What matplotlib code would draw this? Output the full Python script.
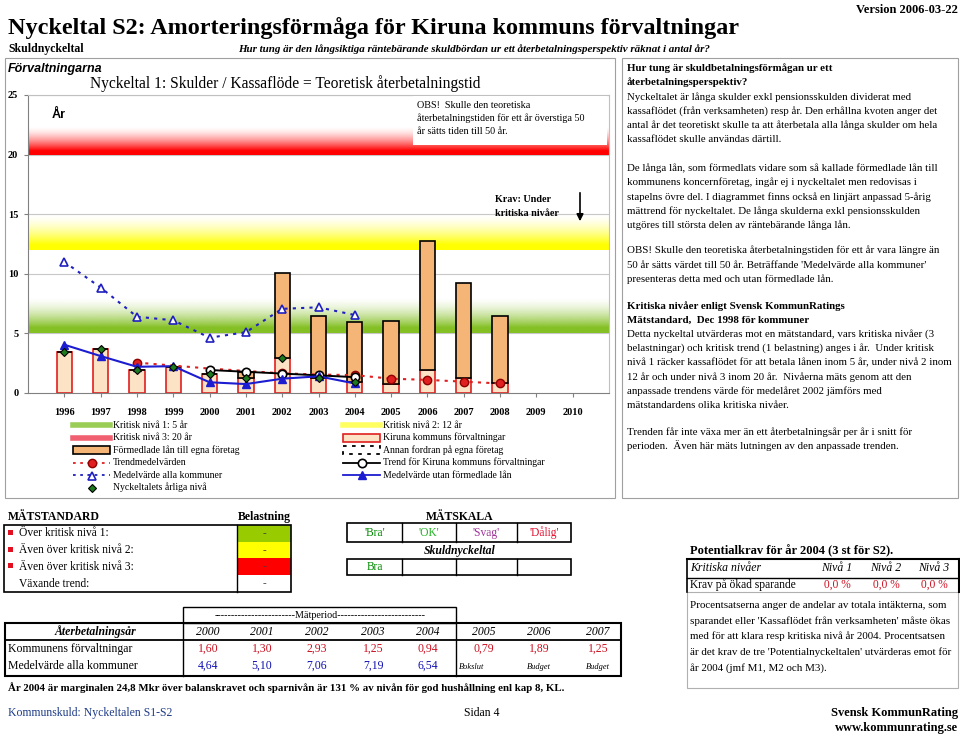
import numpy as np
import matplotlib.pyplot as plt
from matplotlib.patches import Rectangle
from matplotlib.lines import Line2D
from matplotlib.colors import to_rgb

plt.rcParams['font.family'] = ['Liberation Serif', 'DejaVu Serif']

# ---- data ----
years = [1996, 1997, 1998, 1999, 2000, 2001, 2002, 2003, 2004, 2005, 2006, 2007, 2008]
kiruna = [3.4, 3.7, 1.9, 2.2, 1.6, 1.3, 2.93, 1.25, 0.94, 0.79, 1.89, 1.25, 0.8]
formedlade = [0, 0, 0, 0, 0, 0.5, 7.17, 5.2, 5.01, 5.21, 10.86, 7.95, 5.65]

arlig_years = [1996, 1997, 1998, 1999, 2000, 2001, 2002, 2003, 2004]
arlig = [3.4, 3.7, 1.9, 2.15, 1.6, 1.3, 2.93, 1.25, 0.94]
alla_kommuner = [11.0, 8.85, 6.4, 6.1, 4.64, 5.10, 7.06, 7.19, 6.54]
utan_formedlade = [4.05, 3.1, 2.2, 2.25, 0.9, 0.75, 1.2, 1.4, 0.8]

trend_years = [1998, 1999, 2000, 2001, 2002, 2003, 2004, 2005, 2006, 2007, 2008]
trend_medel = [2.55, 2.3, 2.05, 1.85, 1.65, 1.55, 1.5, 1.2, 1.1, 0.95, 0.8]
trend_marks = [0, 4, 6, 7, 8, 9, 10]

trend_kiruna_years = [2000, 2001, 2002, 2003, 2004]
trend_kiruna = [1.93, 1.78, 1.63, 1.48, 1.33]

axis_years = list(range(1996, 2011))
y_ticks = [0, 5, 10, 15, 20, 25]

# critical levels: (level, fade top, colour)
levels = [(5, 8.0, '#84c024'), (12, 15.0, '#ffff00'), (20, 22.4, '#ff0000')]

tab_years = ['2000', '2001', '2002', '2003', '2004', '2005', '2006', '2007']
tab_kommun = ['1,60', '1,30', '2,93', '1,25', '0,94', '0,79', '1,89', '1,25']
tab_medel = ['4,64', '5,10', '7,06', '7,19', '6,54']
tab_notes = ['Bokslut', 'Budget', 'Budget']
tab_x = [208, 262, 317, 373, 428, 484, 539, 598]

W, H = 960, 734
fig = plt.figure(figsize=(W / 100, H / 100), dpi=100)

# ---- the chart ----
x0, x1, ytop, ybot = 28, 609, 95, 393
ax = fig.add_axes([x0 / W, 1 - ybot / H, (x1 - x0) / W, (ybot - ytop) / H], zorder=1)

for lo, hi, col in levels:
    t = np.linspace(0, 1, 200)
    img = np.zeros((200, 1, 4))
    img[:, 0, :3] = to_rgb(col)
    img[:, 0, 3] = np.clip((1 - t) / 0.85, 0, 1) ** 1.6
    ax.imshow(img, extent=[1995, 2011, lo, hi], origin='lower', aspect='auto',
              interpolation='bilinear', zorder=0.5)

ax.set_xlim(1995, 2011)
ax.set_ylim(0, 25)
for y in y_ticks[1:]:
    ax.axhline(y, color='#c8c8c8', lw=0.8, zorder=0.4)

ax.bar(years, kiruna, width=0.42, color='#fde3c6', edgecolor='#e02020', lw=1.2, zorder=2)
ax.bar(years, formedlade, bottom=kiruna, width=0.42, color='#f4b577',
       edgecolor='black', lw=1.2, zorder=2)

ax.plot(arlig_years, alla_kommuner, ls=(0, (1.5, 2.5)), color='#2020c0', lw=1.5,
        marker='^', mfc='white', mec='#2020c0', ms=6, mew=1.2, zorder=3)
ax.plot(trend_years, trend_medel, ls=(0, (1.5, 2.5)), color='#e02020', lw=1.5, zorder=3)
ax.plot([trend_years[i] for i in trend_marks], [trend_medel[i] for i in trend_marks], ls='none',
        marker='o', mfc='#e02020', mec='#900000', ms=6, zorder=4)
ax.plot(trend_kiruna_years, trend_kiruna, color='black', lw=1.4, marker='o', mfc='white',
        mec='black', ms=6, mew=1.2, zorder=4)
ax.plot(arlig_years, utan_formedlade, color='#1c1cd0', lw=1.5, marker='^', mfc='#1c1cd0',
        mec='#1c1cd0', ms=6, zorder=5)
ax.plot(arlig_years, arlig, ls='none', marker='D', mfc='#1e7a1e', mec='black', ms=4.5,
        mew=0.8, zorder=6)

ax.set_yticks(y_ticks)
ax.set_xticks(axis_years)
ax.tick_params(axis='y', length=3, labelsize=7.5, pad=4, color='#808080')
ax.tick_params(axis='x', length=3, labelsize=7.5, pad=8, color='#808080')
for lab in ax.get_xticklabels() + ax.get_yticklabels():
    lab.set_fontweight('bold')
for s in ['left', 'bottom']:
    ax.spines[s].set_color('#808080')
for s in ['top', 'right']:
    ax.spines[s].set_color('#c0c0c0')

# ---- page layer in pixel coordinates ----
page = fig.add_axes([0, 0, 1, 1], zorder=2)
page.set_xlim(0, W)
page.set_ylim(H, 0)
page.axis('off')


def txt(x, y, s, size=8, ha='left', weight='normal', style='normal', color='black', family=None):
    kw = {}
    if family:
        kw['family'] = family
    page.text(x, y, s, fontsize=size, ha=ha, va='center', fontweight=weight,
              fontstyle=style, color=color, **kw)


def box(xa, ya, xb, yb, lw=1.0, ec='black', fc='none'):
    page.add_patch(Rectangle((xa, ya), xb - xa, yb - ya, lw=lw, ec=ec, fc=fc))


def hline(xa, xb, y, lw=1.0, color='black'):
    page.add_line(Line2D([xa, xb], [y, y], lw=lw, color=color))


def vline(x, ya, yb, lw=1.0, color='black'):
    page.add_line(Line2D([x, x], [ya, yb], lw=lw, color=color))


# header
txt(958, 10, 'Version 2006-03-22', 9, ha='right', weight='bold')
txt(8, 28, 'Nyckeltal S2: Amorteringsförmåga för Kiruna kommuns förvaltningar', 17.4, weight='bold')
txt(8, 49, 'Skuldnyckeltal', 8.5, weight='bold')
txt(238, 49, 'Hur tung är den långsiktiga räntebärande skuldbördan ur ett '
    'återbetalningsperspektiv räknat i antal år?', 7.9, weight='bold', style='italic')

# chart frame and texts
box(5, 58, 615, 498, lw=0.8, ec='#a0a0a0')
txt(8, 69, 'Förvaltningarna', 9, weight='bold', style='italic', family='Liberation Sans')
txt(285, 84, 'Nyckeltal 1: Skulder / Kassaflöde = Teoretisk återbetalningstid', 11.2, ha='center')
txt(52, 115, 'År', 9, weight='bold', family='Liberation Sans')
box(413, 96, 607, 145, lw=0, ec='none', fc='white')
for i, s in enumerate(['OBS!  Skulle den teoretiska',
                       'återbetalningstiden för ett år överstiga 50',
                       'år sätts tiden till 50 år.']):
    txt(417, 105 + 13.5 * i, s, 7.3)
txt(495, 199, 'Krav: Under', 7.3, weight='bold')
txt(495, 213, 'kritiska nivåer', 7.3, weight='bold')
page.annotate('', xy=(580, 224), xytext=(580, 190),
              arrowprops=dict(arrowstyle='-|>', color='black', lw=1.2, mutation_scale=10))

# legend
rows = [425, 437.5, 450, 462.5, 475, 487.5]
c1, c2 = 73, 343
sw = 37


def leg_line(x, y, **kw):
    page.add_line(Line2D([x, x + sw], [y, y], **kw))


leg_line(c1, rows[0], color='#9acd55', lw=4)
txt(c1 + 40, rows[0], 'Kritisk nivå 1: 5 år', 7)
leg_line(c1, rows[1], color='#f06070', lw=4)
txt(c1 + 40, rows[1], 'Kritisk nivå 3: 20 år', 7)
box(c1, rows[2] - 4, c1 + sw, rows[2] + 4, lw=1.2, fc='#f4b577')
txt(c1 + 40, rows[2], 'Förmedlade lån till egna företag', 7)
leg_line(c1, rows[3], color='#e02020', lw=1.3, ls=(0, (1.5, 2.5)))
page.plot(c1 + sw / 2, rows[3], 'o', mfc='#e02020', mec='#900000', ms=6)
txt(c1 + 40, rows[3], 'Trendmedelvärden', 7)
leg_line(c1, rows[4], color='#2020c0', lw=1.3, ls=(0, (1.5, 2.5)))
page.plot(c1 + sw / 2, rows[4] + 1, '^', mfc='white', mec='#2020c0', ms=6, mew=1.2)
txt(c1 + 40, rows[4], 'Medelvärde alla kommuner', 7)
page.plot(c1 + sw / 2, rows[5], 'D', mfc='#1e7a1e', mec='black', ms=4.5, mew=0.8)
txt(c1 + 40, rows[5], 'Nyckeltalets årliga nivå', 7)

leg_line(c2, rows[0], color='#ffff60', lw=4)
txt(c2 + 40, rows[0], 'Kritisk nivå 2: 12 år', 7)
box(c2, rows[1] - 4, c2 + sw, rows[1] + 4, lw=1.2, ec='#e02020', fc='#fde3c6')
txt(c2 + 40, rows[1], 'Kiruna kommuns förvaltningar', 7)
page.add_patch(Rectangle((c2, rows[2] - 4), sw, 8, lw=1.3, ec='black', fc='none', ls=(0, (2, 3))))
txt(c2 + 40, rows[2], 'Annan fordran på egna företag', 7)
leg_line(c2, rows[3], color='black', lw=1.3)
page.plot(c2 + sw / 2, rows[3], 'o', mfc='white', mec='black', ms=6, mew=1.2)
txt(c2 + 40, rows[3], 'Trend för Kiruna kommuns förvaltningar', 7)
leg_line(c2, rows[4], color='#1c1cd0', lw=1.3)
page.plot(c2 + sw / 2, rows[4], '^', mfc='#1c1cd0', mec='#1c1cd0', ms=6)
txt(c2 + 40, rows[4], 'Medelvärde utan förmedlade lån', 7)

# right description box
box(622, 58, 958, 498, lw=0.8, ec='#a0a0a0')
right_lines = [
    (68, 'Hur tung är skuldbetalningsförmågan ur ett', 'bold'),
    (82, 'återbetalningsperspektiv?', 'bold'),
    (97, 'Nyckeltalet är långa skulder exkl pensionsskulden dividerat med', 'normal'),
    (111, 'kassaflödet (från verksamheten) resp år. Den erhållna kvoten anger det', 'normal'),
    (125, 'antal år det teoretiskt skulle ta att återbetala alla långa skulder om hela', 'normal'),
    (139, 'kassaflödet skulle användas därtill.', 'normal'),
    (168, 'De långa lån, som förmedlats vidare som så kallade förmedlade lån till', 'normal'),
    (182, 'kommunens koncernföretag, ingår ej i nyckeltalet men redovisas i', 'normal'),
    (197, 'stapelns övre del. I diagrammet finns också en linjärt anpassad 5-årig', 'normal'),
    (211, 'mättrend för nyckeltalet. De långa skulderna exkl pensionsskulden', 'normal'),
    (225, 'utgöres till största delen av räntebärande långa lån.', 'normal'),
    (250, 'OBS! Skulle den teoretiska återbetalningstiden för ett år vara längre än', 'normal'),
    (265, "50 år sätts värdet till 50 år. Beträffande 'Medelvärde alla kommuner'", 'normal'),
    (279, 'presenteras detta med och utan förmedlade lån.', 'normal'),
    (306, 'Kritiska nivåer enligt Svensk KommunRatings', 'bold'),
    (320, 'Mätstandard,  Dec 1998 för kommuner', 'bold'),
    (334, 'Detta nyckeltal utvärderas mot en mätstandard, vars kritiska nivåer (3', 'normal'),
    (348, 'belastningar) och kritisk trend (1 belastning) anges i år.  Under kritisk', 'normal'),
    (363, 'nivå 1 räcker kassaflödet för att betala lånen inom 5 år, under nivå 2 inom', 'normal'),
    (377, '12 år och under nivå 3 inom 20 år.  Nivåerna mäts genom att den', 'normal'),
    (391, 'anpassade trendens värde för medelåret 2002 jämförs med', 'normal'),
    (405, 'mätstandardens olika kritiska nivåer.', 'normal'),
    (432, 'Trenden får inte växa mer än ett återbetalningsår per år i snitt för', 'normal'),
    (446, 'perioden.  Även här mäts lutningen av den anpassade trenden.', 'normal'),
]
for y, s, w in right_lines:
    txt(627, y, s, 7.8, weight=w)

# MÄTSTANDARD
txt(8, 517, 'MÄTSTANDARD', 8.5, weight='bold')
txt(264, 517, 'Belastning', 8.5, ha='center', weight='bold')
std_rows = ['Över kritisk nivå 1:', 'Även över kritisk nivå 2:', 'Även över kritisk nivå 3:', 'Växande trend:']
std_cols = ['#99cc00', '#ffff00', '#ff0000', 'white']
for i, (s, c) in enumerate(zip(std_rows, std_cols)):
    ya = 525 + 16.7 * i
    page.add_patch(Rectangle((237, ya), 54, 16.7, lw=0, fc=c))
    txt(264, ya + 8.5, '-', 8, ha='center', color='#404040')
    txt(19, ya + 8.5, s, 8.3)
    if i < 3:
        page.add_patch(Rectangle((8, ya + 5), 5, 5, lw=0, fc='#e01020'))
box(4, 525, 291, 592, lw=1.2)
vline(237, 525, 592, lw=1.0)

# MÄTSKALA
txt(460, 517, 'MÄTSKALA', 8.5, ha='center', weight='bold')
sk_x = [347, 402, 456, 517, 571]
sk_lab = ["'Bra'", "'OK'", "'Svag'", "'Dålig'"]
sk_col = ['#008a00', '#20b020', '#a0309a', '#e01030']
for ya, yb in [(523, 542), (559, 575)]:
    box(sk_x[0], ya, sk_x[-1], yb, lw=1.2)
    for xx in sk_x[1:-1]:
        vline(xx, ya, yb, lw=1.0)
for i in range(4):
    txt((sk_x[i] + sk_x[i + 1]) / 2, 533, sk_lab[i], 8.3, ha='center', color=sk_col[i])
txt(460, 551, 'Skuldnyckeltal', 8.5, ha='center', weight='bold', style='italic')
txt((sk_x[0] + sk_x[1]) / 2, 567, 'Bra', 8.3, ha='center', color='#008a00')

# main table
box(183, 607, 456, 623, lw=1.0)
txt(320, 615, '------------------------Mätperiod--------------------------', 7.3, ha='center')
box(5, 623, 621, 676, lw=1.5)
hline(5, 621, 640, lw=1.3)
vline(183, 623, 676, lw=1.0)
vline(456, 623, 676, lw=1.0)
txt(95, 632, 'Återbetalningsår', 8.5, ha='center', weight='bold', style='italic')
for i, x in enumerate(tab_x):
    txt(x, 632, tab_years[i], 8.5, ha='center', style='italic')
    txt(x, 649, tab_kommun[i], 8.5, ha='center', color='#cc1020')
for i in range(5):
    txt(tab_x[i], 666, tab_medel[i], 8.5, ha='center', color='#1010b0')
txt(8, 649, 'Kommunens förvaltningar', 8.5)
txt(8, 666, 'Medelvärde alla kommuner', 8.5)
txt(459, 667, tab_notes[0], 6, style='italic')
txt(tab_x[6], 667, tab_notes[1], 6, ha='center', style='italic')
txt(tab_x[7], 667, tab_notes[2], 6, ha='center', style='italic')

txt(8, 688, 'År 2004 är marginalen 24,8 Mkr över balanskravet och sparnivån är 131 % av nivån '
    'för god hushållning enl kap 8, KL.', 7.8, weight='bold')

# potentialkrav
txt(690, 551, 'Potentialkrav för år 2004 (3 st för S2).', 9, weight='bold')
hline(687, 959, 559, lw=1.5)
hline(687, 959, 578, lw=1.0)
vline(687, 559, 592, lw=1.2)
vline(958.5, 559, 592, lw=1.5)
txt(690, 568, 'Kritiska nivåer', 8.5, style='italic')
txt(690, 585, 'Krav på ökad sparande', 8.3)
for x, s in zip([837, 886, 934], ['Nivå 1', 'Nivå 2', 'Nivå 3']):
    txt(x, 568, s, 8.5, ha='center', style='italic')
    txt(x, 585, '0,0 %', 8.3, ha='center', color='#cc1020')
box(687, 592, 958, 688, lw=0.8, ec='#b0b0b0')
for i, s in enumerate(['Procentsatserna anger de andelar av totala intäkterna, som',
                       "sparandet eller 'Kassaflödet från verksamheten' måste ökas",
                       'med för att klara resp kritiska nivå år 2004. Procentsatsen',
                       "är det krav de tre 'Potentialnyckeltalen' utvärderas emot för",
                       'år 2004 (jmf M1, M2 och M3).']):
    txt(690, 605 + 15.8 * i, s, 7.9)

# footer
txt(8, 713, 'Kommunskuld: Nyckeltalen S1-S2', 8.5, color='#1f3c88')
txt(482, 713, 'Sidan 4', 8.5, ha='center')
txt(958, 713, 'Svensk KommunRating', 9, ha='right', weight='bold')
txt(958, 728, 'www.kommunrating.se', 9, ha='right', weight='bold')

fig.savefig('out.png', dpi=100)
